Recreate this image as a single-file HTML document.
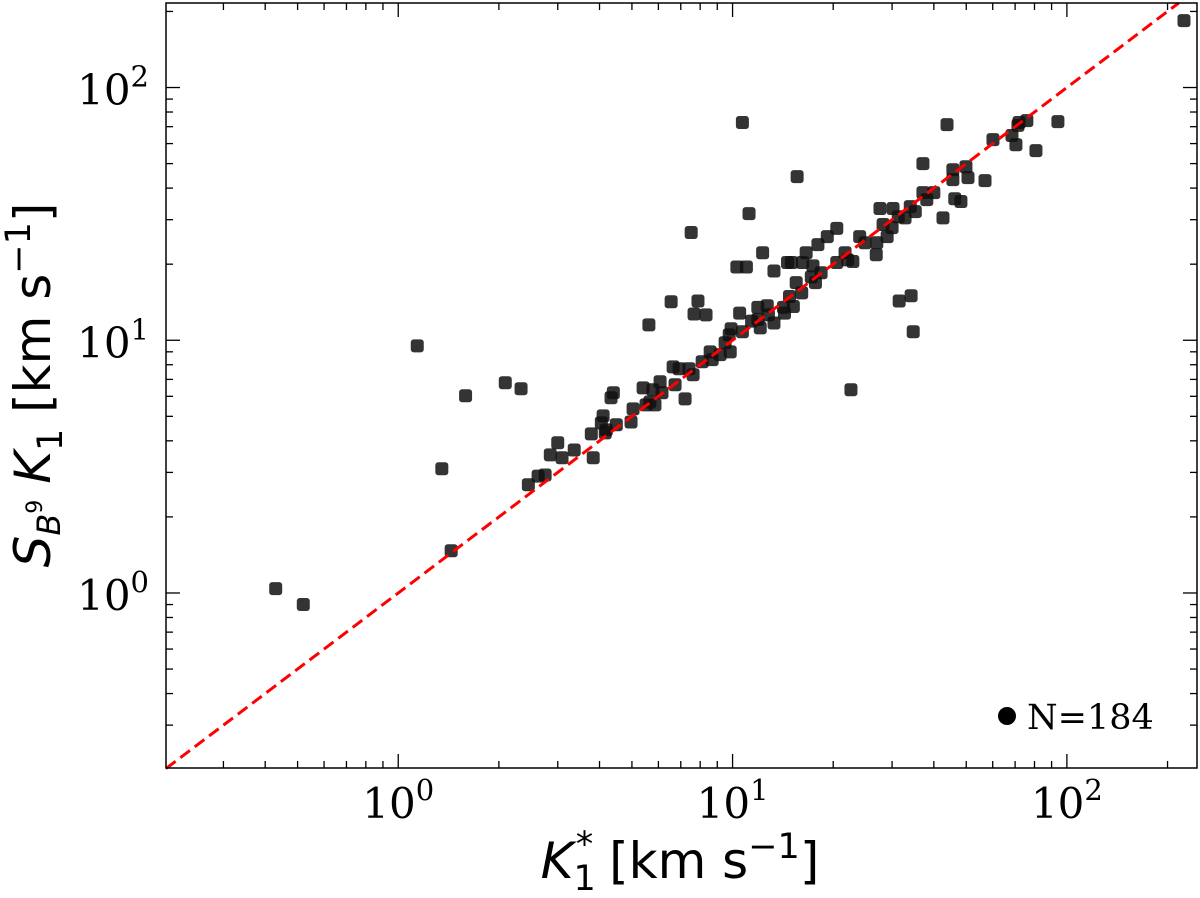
<!DOCTYPE html>
<html><head><meta charset="utf-8"><style>
html,body{margin:0;padding:0;background:#fff;width:1200px;height:898px;overflow:hidden}
svg text{font-family:"DejaVu Sans","Liberation Sans",sans-serif}
</style></head><body>
<svg id="chart" width="1200" height="898" xmlns="http://www.w3.org/2000/svg"></svg>
<script>
const kStar = [0.43,0.52,1.14,1.35,1.44,1.59,2.09,2.33,2.45,2.62,2.75,2.85,3.0,3.09,3.36,3.78,3.83,4.1,4.05,4.19,4.16,4.4,4.33,4.49,4.97,5.04,5.4,5.51,5.78,5.66,5.86,6.07,6.15,5.62,6.55,6.73,6.64,6.92,7.21,7.41,7.62,7.52,7.88,7.67,8.33,8.11,8.57,8.69,9.18,9.5,9.77,9.9,9.84,10.5,10.7,10.7,10.3,11.0,11.2,11.4,11.9,11.9,12.1,12.7,12.8,12.3,13.3,13.3,14.2,14.3,14.6,15.0,14.8,15.5,15.2,16.1,16.2,16.6,15.6,17.4,17.2,18.0,18.4,17.7,19.2,20.5,20.5,21.7,22.1,22.6,22.9,24.0,24.9,27.0,26.9,27.6,30.2,28.2,29.0,30.0,31.3,32.8,34.0,35.2,31.5,34.2,34.7,37.1,37.1,38.1,40.0,42.6,43.8,45.6,45.6,46.2,48.2,49.9,50.6,56.9,60.1,68.5,70.4,71.4,71.9,75.9,80.8,94.0,224];
const k1 = [1.04,0.90,9.5,3.1,1.47,6.03,6.79,6.43,2.68,2.9,2.93,3.52,3.93,3.43,3.68,4.26,3.43,5.02,4.71,4.42,4.3,6.2,5.92,4.63,4.75,5.35,6.48,5.55,6.37,5.7,5.55,6.85,6.2,11.5,14.2,6.67,7.85,7.71,5.86,7.71,7.3,26.7,14.3,12.7,12.6,8.22,9.0,8.38,8.77,9.78,10.5,11.1,9.0,12.8,10.8,72.7,19.5,19.5,31.7,11.9,12.1,13.5,11.2,13.7,12.6,22.2,18.8,11.7,13.5,12.8,20.3,20.3,14.9,16.9,13.6,15.4,20.3,22.2,44.4,19.7,17.8,23.9,18.5,16.9,25.7,27.7,20.3,22.2,20.8,6.37,20.5,25.7,24.3,24.3,21.8,33.2,33.2,28.7,25.7,27.9,30.8,30.5,33.8,32.3,14.3,15.0,10.8,50.0,38.4,36.0,38.4,30.5,71.3,47.3,43.2,36.3,35.4,48.6,44.0,42.8,62.2,64.6,59.4,70.8,72.7,74.0,56.3,73.3,184];
const xTickLabels = ["0","1","2"];
const yTickLabels = ["0","1","2"];
const legendLabel = "N=184";

const NS="http://www.w3.org/2000/svg";
const svg=document.getElementById('chart');
const L=166,R=1197,T=3,B=768;
const xMinLog=Math.log10(0.202), xMaxLog=Math.log10(245);
const yMinLog=Math.log10(0.203), yMaxLog=Math.log10(216);
function X(v){return L+(Math.log10(v)-xMinLog)/(xMaxLog-xMinLog)*(R-L);}
function Y(v){return B-(Math.log10(v)-yMinLog)/(yMaxLog-yMinLog)*(B-T);}
function mk(tag,attrs){const e=document.createElementNS(NS,tag);for(const k in attrs)e.setAttribute(k,attrs[k]);svg.appendChild(e);return e;}

for(let i=0;i<kStar.length;i++){
  const r=mk('rect',{x:X(kStar[i])-6.5,y:Y(k1[i])-6.5,width:13,height:13,rx:3,fill:'#111','fill-opacity':0.85});
  
  
}
const ln=mk('line',{x1:X(0.202),y1:Y(0.202),x2:X(216),y2:Y(216),stroke:'#f00','stroke-width':3,'stroke-dasharray':'12,6'});


const fr=mk('rect',{x:L,y:T,width:R-L,height:B-T,fill:'none',stroke:'#000','stroke-width':1.5});


for(let d=-1;d<=2;d++){
  for(let m=1;m<10;m++){
    const v=m*Math.pow(10,d);
    const len=m===1?14:7;
    if(v>=0.202&&v<=245){
      const x=X(v);
      const t1=mk('line',{x1:x,y1:B,x2:x,y2:B-len,stroke:'#000','stroke-width':1.3});
      
      
      const t2=mk('line',{x1:x,y1:T,x2:x,y2:T+len,stroke:'#000','stroke-width':1.3});
      
      
    }
    if(v>=0.203&&v<=216){
      const y=Y(v);
      const t3=mk('line',{x1:L,y1:y,x2:L+len,y2:y,stroke:'#000','stroke-width':1.3});
      
      
      const t4=mk('line',{x1:R,y1:y,x2:R-len,y2:y,stroke:'#000','stroke-width':1.3});
      
      
    }
  }
}
const SERIF='font-family:"DejaVu Serif","Liberation Serif",serif';
xTickLabels.forEach(e=>{
  const t=mk('text',{x:X(Math.pow(10,+e)),y:818,'text-anchor':'middle','font-size':42,style:SERIF});
  t.innerHTML='10<tspan dy="-18" font-size="29">'+e+'</tspan>';
  
  
});
yTickLabels.forEach(e=>{
  const t=mk('text',{x:149,y:Y(Math.pow(10,+e))+17,'text-anchor':'end','font-size':42,style:SERIF});
  t.innerHTML='10<tspan dy="-18" font-size="29">'+e+'</tspan>';
  
  
});
const ld=mk('circle',{cx:1007,cy:716,r:9,fill:'#000'});


const lt=mk('text',{x:1027,y:729,'font-size':35,style:SERIF});
lt.textContent=legendLabel;


</script>
<svg style="position:absolute;left:0;top:0" width="1200" height="898">
<text x="680" y="878" text-anchor="middle" font-size="50" font-family="DejaVu Sans, sans-serif"><tspan font-style="italic">K</tspan><tspan dy="12" font-size="35">1</tspan><tspan dx="-20" dy="-34" font-size="35">*</tspan><tspan dy="22"> [km s</tspan><tspan dy="-20" font-size="35">−1</tspan><tspan dy="20">]</tspan></text>
<text transform="translate(50,385) rotate(-90)" text-anchor="middle" font-size="50" font-family="DejaVu Sans, sans-serif"><tspan font-style="italic">S</tspan><tspan dy="10" font-size="32" font-style="italic">B</tspan><tspan dy="-18" font-size="22">9</tspan><tspan dy="8"> </tspan><tspan font-style="italic">K</tspan><tspan dy="12" font-size="35">1</tspan><tspan dy="-12"> [km s</tspan><tspan dy="-20" font-size="35">−1</tspan><tspan dy="20">]</tspan></text>
</svg>
</body></html>
